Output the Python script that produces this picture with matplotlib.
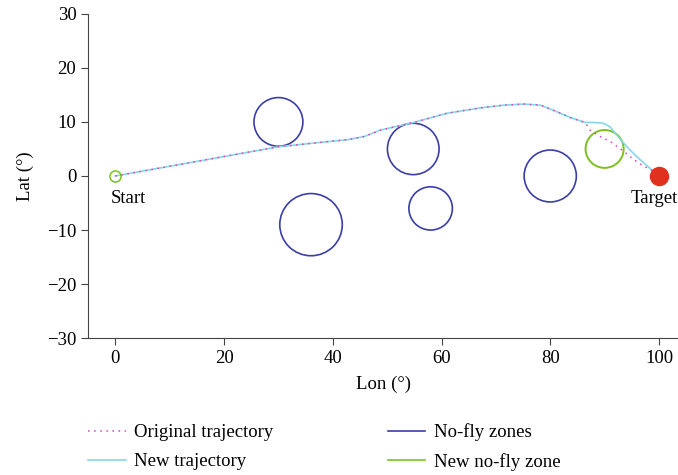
import matplotlib
matplotlib.use('Agg')
import matplotlib.pyplot as plt
from matplotlib.patches import Circle
from matplotlib.lines import Line2D

plt.rcParams['font.family'] = ['Liberation Serif', 'DejaVu Serif']

# trajectories (lon, lat)
orig_lon = [0, 10, 20, 30, 39, 42.7, 45.8, 48.8, 54.9, 61, 67.2, 71.4, 75.1, 78.2, 81.2,
            83.7, 86.4, 87.3, 89.2, 91.3, 93.2, 95.3, 97.1, 98.8, 100]
orig_lat = [0, 1.8, 3.6, 5.4, 6.35, 6.7, 7.3, 8.5, 9.9, 11.6, 12.6, 13.1, 13.3, 13.1, 11.9,
            10.8, 9.9, 8.5, 7.3, 6.2, 4.8, 3.1, 1.85, 1.0, 0]
new_lon = [0, 10, 20, 30, 39, 42.7, 45.8, 48.8, 54.9, 61, 67.2, 71.4, 75.1, 78.2, 81.2,
           83.7, 86.4, 88, 89.8, 91, 92.2, 94.1, 95.9, 98.7, 100]
new_lat = [0, 1.8, 3.6, 5.4, 6.35, 6.7, 7.3, 8.5, 9.9, 11.6, 12.6, 13.1, 13.3, 13.1, 11.9,
           10.8, 9.9, 9.9, 9.75, 9.1, 7.6, 5.4, 3.6, 1.1, 0]

# no-fly zones
zone_lon = [30, 36, 54.8, 58, 80]
zone_lat = [10, -9, 5, -6, 0]
zone_r = [4.5, 5.75, 4.75, 4.0, 4.8]
new_zone = (90, 5, 3.5)

fig = plt.figure(figsize=(6.78, 4.75), dpi=100)
ax = fig.add_axes([0.13, 0.288, 0.87, 0.683])

ax.plot(orig_lon, orig_lat, color='#e040c0', ls=(0, (1, 3)), lw=1.1, zorder=3)
ax.plot(new_lon, new_lat, color='#86d8e8', lw=1.2, zorder=2)

for x, y, r in zip(zone_lon, zone_lat, zone_r):
    ax.add_patch(Circle((x, y), r, fill=False, ec='#3a3fa8', lw=1.2))
ax.add_patch(Circle(new_zone[:2], new_zone[2], fill=False, ec='#7cc21e', lw=1.4))

ax.plot(0, 0, 'o', ms=8, mfc='none', mec='#7cc21e', mew=1.1)
ax.plot(100, 0, 'o', ms=13, color='#e0301e', zorder=4)
ax.text(2.4, -2.5, 'Start', ha='center', va='top', fontsize=13.5)
ax.text(103.4, -2.5, 'Target', ha='right', va='top', fontsize=13.5)

ax.set_xlim(-5, 103.5)
ax.set_ylim(-30, 30)
ax.set_xticks([0, 20, 40, 60, 80, 100])
ax.set_yticks([-30, -20, -10, 0, 10, 20, 30])
ax.set_yticklabels(['\u221230', '\u221220', '\u221210', '0', '10', '20', '30'])
ax.spines['top'].set_visible(False)
ax.spines['right'].set_visible(False)
for s in ['left', 'bottom']:
    ax.spines[s].set_color('#444444')
ax.tick_params(labelsize=13.5, color='#444444', length=5)
ax.set_xlabel('Lon (\u00b0)', fontsize=13.5, labelpad=6)
ax.set_ylabel('Lat (\u00b0)', fontsize=13.5, labelpad=9)

handles = [
    Line2D([], [], color='#e040c0', ls=(0, (1, 3)), lw=1.1),
    Line2D([], [], color='#86d8e8', lw=1.2),
    Line2D([], [], color='#3a3fa8', lw=1.2),
    Line2D([], [], color='#7cc21e', lw=1.2),
]
labels = ['Original trajectory', 'New trajectory', 'No-fly zones', 'New no-fly zone']
fig.legend(handles, labels, ncol=2, frameon=False, fontsize=13.5,
           loc='lower left', bbox_to_anchor=(0.105, -0.027), columnspacing=6.1,
           handlelength=2.0, handletextpad=0.45, labelspacing=0.62)

fig.savefig('out.png', dpi=100)
